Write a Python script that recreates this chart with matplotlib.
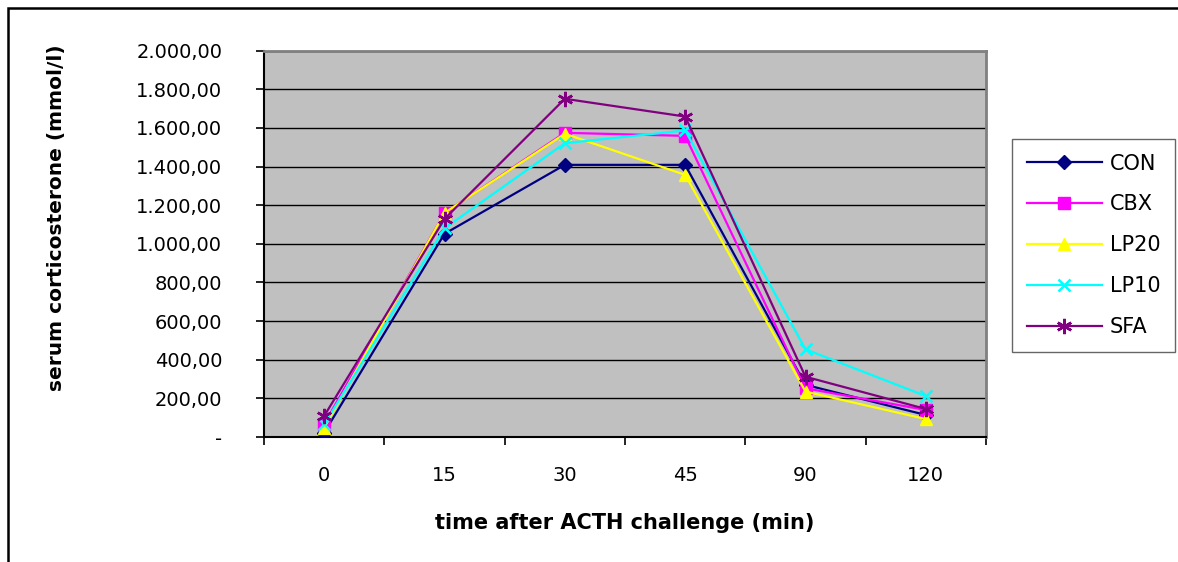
import matplotlib
matplotlib.use("Agg")
import matplotlib.pyplot as plt
from matplotlib.patches import Rectangle
from matplotlib.ticker import FuncFormatter, FixedLocator

plt.rcParams['font.family'] = ['DejaVu Sans']

times = ["0", "15", "30", "45", "90", "120"]
con = [22, 1052, 1409, 1409, 270, 114]
cbx = [67, 1160, 1575, 1559, 252, 140]
lp20 = [48, 1160, 1570, 1357, 235, 93]
lp10 = [65, 1080, 1521, 1587, 454, 212]
sfa = [109, 1129, 1751, 1659, 312, 145]

series = [
    ("CON", con, "#000080", "D", 7),
    ("CBX", cbx, "#FF00FF", "s", 8),
    ("LP20", lp20, "#FFFF00", "^", 9),
    ("LP10", lp10, "#00FFFF", "x", 9),
    ("SFA", sfa, "#800080", (6, 2, 0), 11),
]


def euro(v, pos):
    if abs(v) < 1e-9:
        return "-"
    s = f"{v:,.2f}"
    return s.replace(",", "#").replace(".", ",").replace("#", ".")


fig = plt.figure(figsize=(11.78, 5.62), dpi=100)
W, H = 1178, 562
ax = fig.add_axes([264 / W, 1 - 437 / H, (986 - 264) / W, (437 - 50.7) / H])
ax.set_facecolor("#C0C0C0")

x = list(range(len(times)))
for name, vals, col, mk, ms in series:
    ax.plot(x, vals, color=col, marker=mk, markersize=ms, linewidth=1.6,
            markeredgewidth=1.8 if mk in ("x", (6, 2, 0)) else 1.0,
            markeredgecolor=col, label=name, zorder=3)

ax.set_xlim(-0.5, len(times) - 0.5)
ax.set_ylim(0, 2000)
ax.set_yticks(range(0, 2001, 200))
ax.yaxis.set_major_formatter(FuncFormatter(euro))
ax.grid(axis="y", color="#000000", linewidth=1.0, zorder=1)
ax.set_axisbelow(True)

ax.set_xticks(x)
ax.set_xticklabels(times)
ax.xaxis.set_minor_locator(FixedLocator([i - 0.5 for i in range(len(times) + 1)]))
ax.tick_params(axis="x", which="major", length=0, pad=21, labelsize=14)
ax.tick_params(axis="x", which="minor", length=6, width=1.2, direction="out")
ax.tick_params(axis="y", length=6, width=1.2, direction="out", pad=24, labelsize=14)

for side in ("top", "right"):
    ax.spines[side].set_color("#808080")
    ax.spines[side].set_linewidth(2)
for side in ("left", "bottom"):
    ax.spines[side].set_color("#000000")
    ax.spines[side].set_linewidth(1.5)

ax.set_ylabel("serum corticosterone (mmol/l)", fontsize=14.5, fontweight="bold")
# label sits a bit above the axes centre in the original
ax.yaxis.set_label_coords(-(264 - 66) / (986 - 264), (437 - 218) / (437 - 50.7))
ax.set_xlabel("time after ACTH challenge (min)", fontsize=15, fontweight="bold", labelpad=20)

leg = fig.legend(loc="upper left", bbox_to_anchor=(1012 / W, 1 - 139 / H),
                 frameon=True, fancybox=False, fontsize=15, handlelength=3.6,
                 handletextpad=0.4, labelspacing=1.0, borderpad=0.7,
                 borderaxespad=0)
leg.get_frame().set_edgecolor("#404040")
leg.get_frame().set_linewidth(1.0)

fig.patches.append(Rectangle((8 / W, -0.1), 1.2, 1 - 8 / H + 0.1, transform=fig.transFigure,
                             fill=False, edgecolor="#000000", linewidth=1.8))

fig.savefig("out.png", dpi=100)
